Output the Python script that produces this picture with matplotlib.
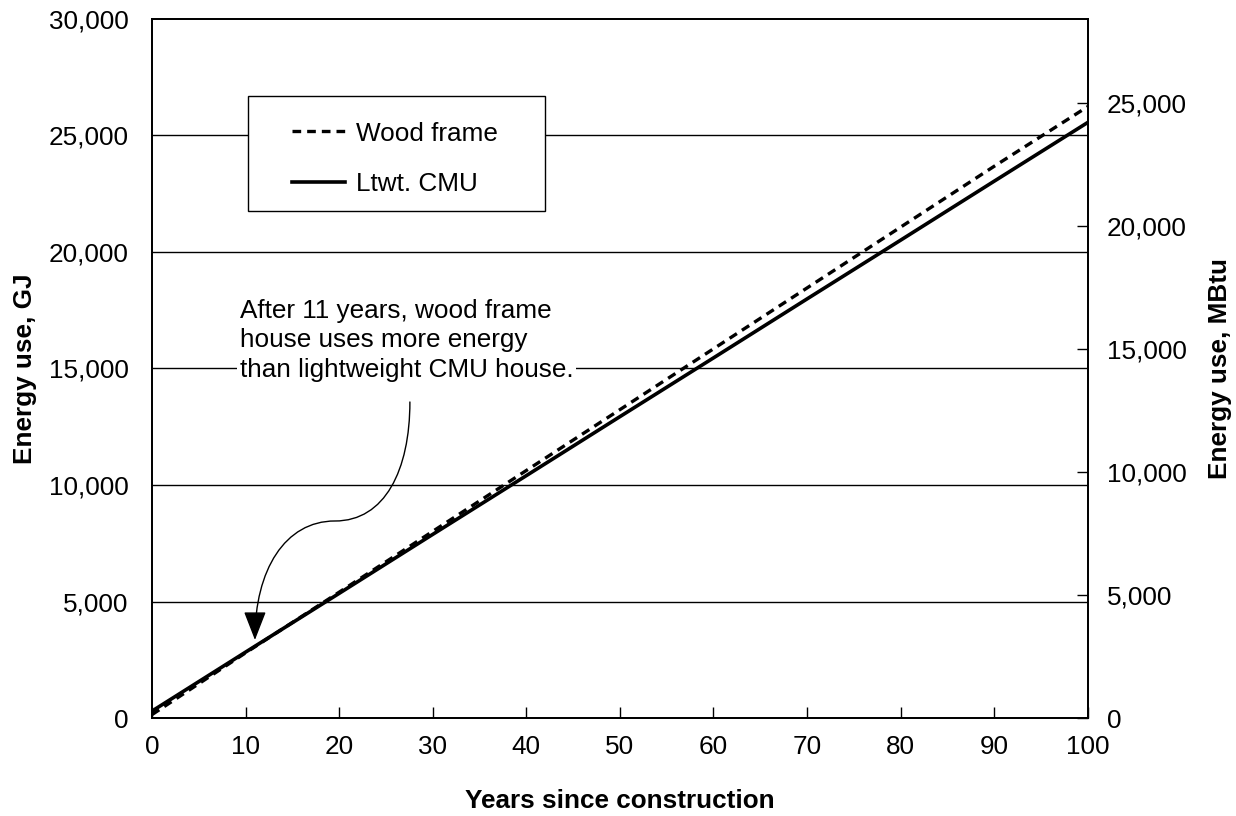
import matplotlib

matplotlib.use("Agg")
import matplotlib.pyplot as plt
from matplotlib.patches import FancyArrowPatch, Rectangle
from matplotlib.path import Path
from matplotlib.ticker import FuncFormatter

plt.rcParams["font.family"] = ["Liberation Sans", "DejaVu Sans"]

# Cumulative energy use (GJ), one point per decade.
years = [0, 10, 20, 30, 40, 50, 60, 70, 80, 90, 100]
wood_frame_gj = [150, 2800, 5400, 8010, 10620, 13230, 15840, 18450, 21060, 23670, 26230]
ltwt_cmu_gj = [300, 2830, 5350, 7880, 10400, 12930, 15450, 17980, 20500, 23030, 25550]

GJ_TO_MBTU = 0.9478
left_ticks = [0, 5000, 10000, 15000, 20000, 25000, 30000]
right_ticks = [0, 5000, 10000, 15000, 20000, 25000]
x_ticks = list(range(0, 101, 10))

FS = 18.8
comma = FuncFormatter(lambda v, _: f"{int(v):,}")

fig = plt.figure(figsize=(12.36, 8.16), dpi=100)
ax = fig.add_axes([0.123, 0.120, 0.757, 0.857])

for y in left_ticks[1:-1]:
    ax.axhline(y, color="black", lw=1.0, zorder=1)

ax.plot(years, wood_frame_gj, color="black", lw=2.4, ls=(0, (2.6, 1.8)), label="Wood frame", zorder=3)
ax.plot(years, ltwt_cmu_gj, color="black", lw=2.6, ls="-", label="Ltwt. CMU", zorder=3)

ax.set_xlim(0, 100)
ax.set_ylim(0, 30000)
ax.set_xticks(x_ticks)
ax.set_yticks(left_ticks)
ax.yaxis.set_major_formatter(comma)
ax.tick_params(axis="x", direction="in", length=8, width=1, pad=12, labelsize=FS)
ax.tick_params(axis="y", length=0, pad=17, labelsize=FS)
ax.set_xlabel("Years since construction", fontsize=FS, fontweight="bold", labelpad=22)
ax.set_ylabel("Energy use, GJ", fontsize=FS, fontweight="bold", labelpad=8)
for s in ax.spines.values():
    s.set_linewidth(1.3)

ax2 = ax.twinx()
ax2.set_ylim(0, 30000 * GJ_TO_MBTU)
ax2.set_yticks(right_ticks)
ax2.yaxis.set_major_formatter(comma)
ax2.tick_params(axis="y", direction="in", length=8, width=1, pad=14, labelsize=FS)
ax2.set_ylabel("Energy use, MBtu", fontsize=FS, fontweight="bold", labelpad=15)
for s in ax2.spines.values():
    s.set_linewidth(1.3)

# legend frame drawn separately: the original box is wider than its contents
ax.add_patch(Rectangle((0.1026, 0.725), 0.3174, 0.165, transform=ax.transAxes,
                       facecolor="white", edgecolor="black", lw=1.0, zorder=4))
leg = ax.legend(
    loc="upper left",
    bbox_to_anchor=(0.150, 0.853),
    fontsize=FS,
    frameon=False,
    handlelength=2.0,
    handletextpad=0.42,
    labelspacing=1.0,
    borderpad=0,
    borderaxespad=0,
)
leg.set_zorder(5)

ax.text(
    9.4,
    16200,
    "After 11 years, wood frame\nhouse uses more energy\nthan lightweight CMU house.",
    fontsize=FS,
    ha="left",
    va="center",
    linespacing=1.27,
    bbox=dict(facecolor="white", edgecolor="none", pad=2),
    zorder=4,
)

# S-shaped callout pointing at year 11
verts = [
    (27.56, 13560),
    (27.56, 10640),
    (24.89, 8455),
    (19.55, 8455),
    (14.21, 8455),
    (11.0, 6350),
    (11.0, 3350),
]
codes = [Path.MOVETO, Path.CURVE4, Path.CURVE4, Path.CURVE4, Path.CURVE4, Path.CURVE4, Path.CURVE4]
arrow = FancyArrowPatch(
    path=Path(verts, codes),
    arrowstyle="-|>,head_length=0.9,head_width=0.35",
    mutation_scale=20,
    color="black",
    lw=1.0,
    transform=ax.transData,
    zorder=4,
)
ax.add_patch(arrow)

fig.savefig("out.png", dpi=100)
